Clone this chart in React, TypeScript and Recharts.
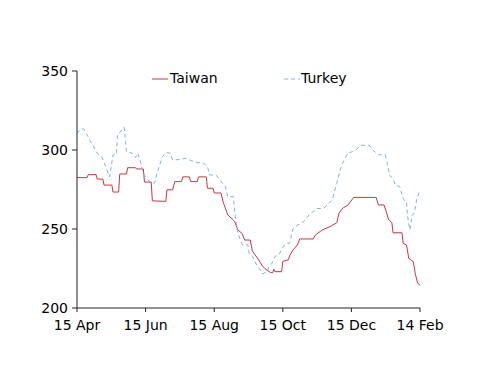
import React from 'react';
import { LineChart, Line, XAxis, YAxis } from 'recharts';

// x = days since 15 Apr
const xTicks = [0, 61, 122, 183, 244, 305];
const xTickLabels = ['15 Apr', '15 Jun', '15 Aug', '15 Oct', '15 Dec', '14 Feb'];
const yTicks = [200, 250, 300, 350];

const taiwanDays = [
  0, 9, 10, 17, 18, 23, 24, 31, 32, 37, 38, 44, 45, 52, 53, 59, 60, 66, 67, 79,
  80, 85, 87, 93, 94, 100, 101, 107, 108, 115, 116, 121, 122, 128, 130, 134, 140, 143, 147, 149,
  154, 156, 161, 165, 167, 172, 174, 175, 176, 182, 183, 188, 189, 192, 196, 198, 210, 212, 218, 225,
  231, 233, 236, 241, 246, 266, 268, 273, 275, 277, 280, 281, 289, 290, 293, 295, 299, 301, 303, 305,
];
const taiwanValues = [
  282.5, 282.5, 284.4, 284.4, 281.6, 281.6, 277.8, 277.8, 273.4, 273.4, 284.8, 284.8, 288.8, 288.8, 288, 288, 279.7, 279.7, 267.8, 267.5,
  274.8, 274.8, 280, 280, 283, 283, 280, 280, 283, 283, 275.8, 275.8, 272.8, 272.8, 267, 259, 255, 249.5, 247, 243,
  243, 236, 231, 226.5, 225, 222.5, 222.3, 224.5, 223, 223, 229.5, 230.6, 233, 236.7, 239.9, 243.7, 243.7, 246.2, 249.4, 251.5,
  254, 260, 263, 265.2, 270, 270, 265.2, 265.2, 261, 256, 254, 247.6, 247.6, 240.9, 239.9, 231.4, 229.3, 221, 215.6, 214.5,
];

const turkeyDays = [
  0, 3, 6, 9, 14, 18, 22, 25, 29, 32,
  35, 36, 40, 42, 44, 49, 52, 54, 56, 59,
  63, 67, 69, 72, 76, 79, 83, 85, 92, 96,
  100, 107, 112, 116, 118, 124, 127, 132, 134, 139,
  141, 143, 147, 152, 153, 156, 158, 161, 164, 165,
  169, 171, 173, 176, 180, 183, 187, 189, 192, 196,
  200, 203, 207, 212, 213, 219, 223, 227, 229, 231,
  234, 236, 241, 245, 248, 252, 260, 263, 268, 274,
  276, 278, 281, 283, 287, 290, 292, 293, 294, 296,
  298, 300, 302, 305,
];
const turkeyValues = [
  310.5, 313.3, 313.3, 309.5, 303, 298, 295.8, 290.5, 283, 296.8,
  297, 309.5, 312.7, 314.4, 299, 298, 295.1, 298, 293.7, 285.2,
  281, 279, 279, 287.3, 295.8, 298.3, 298, 293.7, 294, 294.7,
  293.7, 292, 292, 289.4, 284.2, 284, 281, 276.8, 270.5, 270.5,
  256, 247.5, 240, 240, 234.5, 233, 229.4, 226, 223, 221.5,
  223, 227, 227.8, 232.5, 234.2, 238.8, 240.9, 241, 250, 252.5,
  253.6, 256, 259.5, 262, 263, 263, 265.5, 268.4, 274, 279,
  287.3, 291.6, 298, 299, 300, 303, 303, 300, 297, 297,
  291.6, 284, 282, 277.8, 276.8, 269.4, 267.3, 267.3, 257.8, 249.4,
  258.9, 260, 268.4, 274.7,
];

const taiwan = taiwanDays.map((d, i) => ({ day: d, value: taiwanValues[i] }));
const turkey = turkeyDays.map((d, i) => ({ day: d, value: turkeyValues[i] }));

const RED = '#cf3440';
const BLUE = '#7fb2e6';
const FONT = 'DejaVu Sans, sans-serif';

const App: React.FC = () => {
  return (
    <div style={{ position: 'absolute', left: 0, top: 0, width: 500, height: 386, background: '#fff', fontFamily: FONT }}>
      <LineChart width={500} height={386} margin={{ top: 71, right: 80, bottom: 0, left: 32 }}>
        <XAxis
          dataKey="day"
          type="number"
          domain={[0, 305]}
          ticks={xTicks}
          tickFormatter={(v: number) => xTickLabels[xTicks.indexOf(v)]}
          height={78}
          tickSize={4}
          tickMargin={8}
          stroke="#222"
          tick={{ fill: '#000', fontSize: 14, fontFamily: FONT }}
          allowDuplicatedCategory={false}
        />
        <YAxis
          type="number"
          domain={[200, 350]}
          ticks={yTicks}
          width={45}
          tickSize={5}
          tickMargin={4}
          stroke="#222"
          tick={{ fill: '#000', fontSize: 14, fontFamily: FONT }}
        />
        <Line data={taiwan} dataKey="value" type="linear" stroke={RED} strokeWidth={1} dot={false} isAnimationActive={false} />
        <Line data={turkey} dataKey="value" type="linear" stroke={BLUE} strokeWidth={1} strokeDasharray="4 3" dot={false} isAnimationActive={false} />
      </LineChart>
      <div style={{ position: 'absolute', left: 152, top: 70, display: 'flex', alignItems: 'center', fontSize: 14, color: '#000' }}>
        <svg width={17} height={16}><line x1={0} y1={9} x2={16} y2={9} stroke={RED} strokeWidth={1} /></svg>
        <span style={{ marginLeft: 1 }}>Taiwan</span>
      </div>
      <div style={{ position: 'absolute', left: 284, top: 70, display: 'flex', alignItems: 'center', fontSize: 14, color: '#000' }}>
        <svg width={17} height={16}><line x1={0} y1={9} x2={16} y2={9} stroke={BLUE} strokeWidth={1} strokeDasharray="4 3" /></svg>
        <span style={{ marginLeft: 0 }}>Turkey</span>
      </div>
    </div>
  );
};

export default App;
